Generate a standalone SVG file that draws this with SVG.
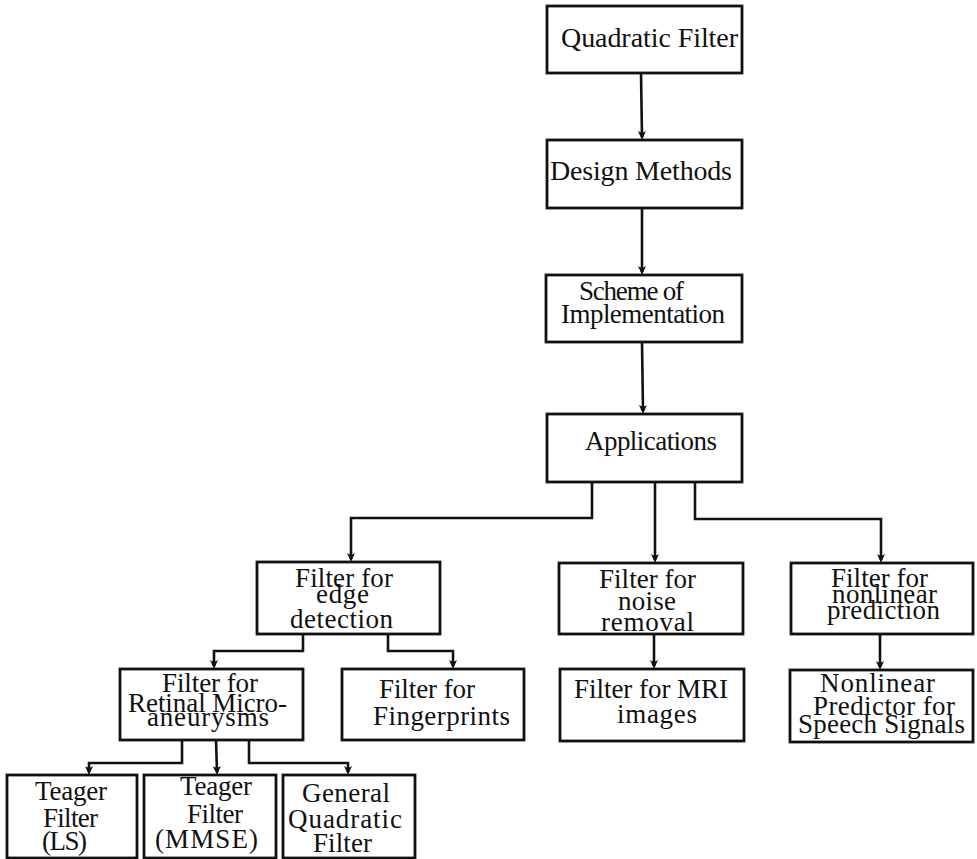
<svg xmlns="http://www.w3.org/2000/svg" width="977" height="859" viewBox="0 0 977 859">
  <style>
    .box { fill: #ffffff; stroke: #111111; stroke-width: 2.8; }
    .lbl { font-family: "Liberation Serif", "DejaVu Serif", serif; font-size: 27px; fill: #111111; }
    .big { font-size: 28px; }
    .wire { fill: none; stroke: #111111; stroke-width: 2.6; stroke-linejoin: miter; }
  </style>
  <defs>
    <marker id="arrow" markerUnits="userSpaceOnUse" viewBox="-11 -6 13 12" refX="-3" refY="0" markerWidth="13" markerHeight="12" orient="auto">
      <path d="M0,0 L-9,-4 Q-6,0 -9,4 Z" fill="#111111"/>
    </marker>
  </defs>

  <rect width="977" height="859" fill="#ffffff"/>

  <!-- connectors -->
  <g id="connectors" class="wires">
    <path class="wire" marker-end="url(#arrow)" d="M641,73 L642,137"/>
    <path class="wire" marker-end="url(#arrow)" d="M642,208 L642,272"/>
    <path class="wire" marker-end="url(#arrow)" d="M642,342 L643,411"/>
    <path class="wire" marker-end="url(#arrow)" d="M592,482 L592,518 L351,518 L351,559"/>
    <path class="wire" marker-end="url(#arrow)" d="M655,482 L655,560"/>
    <path class="wire" marker-end="url(#arrow)" d="M695,482 L695,519 L881,519 L881,560"/>
    <path class="wire" marker-end="url(#arrow)" d="M303,634 L303,651 L214,651 L214,666"/>
    <path class="wire" marker-end="url(#arrow)" d="M388,634 L388,651 L453,651 L453,666"/>
    <path class="wire" marker-end="url(#arrow)" d="M654,634 L654,666"/>
    <path class="wire" marker-end="url(#arrow)" d="M880,634 L880,667"/>
    <path class="wire" marker-end="url(#arrow)" d="M182,740 L182,763 L89,763 L89,772"/>
    <path class="wire" marker-end="url(#arrow)" d="M216,740 L217,772"/>
    <path class="wire" marker-end="url(#arrow)" d="M249,740 L249,763 L348,763 L348,772"/>
  </g>

  <g id="quadratic-filter">
    <rect class="box" x="547" y="6" width="195" height="67"/>
    <text class="lbl big" x="561" y="47" textLength="177">Quadratic Filter</text>
  </g>

  <g id="design-methods">
    <rect class="box" x="547" y="140" width="195" height="68"/>
    <text class="lbl big" x="550" y="180" textLength="182">Design Methods</text>
  </g>

  <g id="scheme">
    <rect class="box" x="546" y="275" width="196" height="67"/>
    <text class="lbl" x="579" y="300" textLength="105">Scheme of</text>
    <text class="lbl" x="561" y="323" textLength="164">Implementation</text>
  </g>

  <g id="applications">
    <rect class="box" x="547" y="414" width="195" height="68"/>
    <text class="lbl" x="585" y="450" textLength="132">Applications</text>
  </g>

  <g id="edge-detection">
    <rect class="box" x="257" y="562" width="183" height="72"/>
    <text class="lbl" x="295" y="587" textLength="98">Filter for</text>
    <text class="lbl" x="316" y="603" textLength="53">edge</text>
    <text class="lbl" x="290" y="628" textLength="103">detection</text>
  </g>

  <g id="noise-removal">
    <rect class="box" x="559" y="563" width="184" height="71"/>
    <text class="lbl" x="599" y="588" textLength="97">Filter for</text>
    <text class="lbl" x="618" y="610" textLength="58">noise</text>
    <text class="lbl" x="601" y="631" textLength="93">removal</text>
  </g>

  <g id="nonlinear-prediction">
    <rect class="box" x="791" y="563" width="182" height="71"/>
    <text class="lbl" x="831" y="587" textLength="97">Filter for</text>
    <text class="lbl" x="832" y="603" textLength="105">nonlinear</text>
    <text class="lbl" x="827" y="619" textLength="113">prediction</text>
  </g>

  <g id="retinal">
    <rect class="box" x="120" y="669" width="183" height="71"/>
    <text class="lbl" x="162" y="692" textLength="96">Filter for</text>
    <text class="lbl" x="128" y="712" textLength="159">Retinal Micro-</text>
    <text class="lbl" x="147" y="726" textLength="122">aneurysms</text>
  </g>

  <g id="fingerprints">
    <rect class="box" x="342" y="669" width="182" height="71"/>
    <text class="lbl" x="379" y="698" textLength="96">Filter for</text>
    <text class="lbl" x="373" y="725" textLength="137">Fingerprints</text>
  </g>

  <g id="mri">
    <rect class="box" x="560" y="669" width="184" height="72"/>
    <text class="lbl" x="574" y="698" textLength="154">Filter for MRI</text>
    <text class="lbl" x="617" y="723" textLength="80">images</text>
  </g>

  <g id="speech-predictor">
    <rect class="box" x="790" y="670" width="183" height="72"/>
    <text class="lbl" x="820" y="692" textLength="115">Nonlinear</text>
    <text class="lbl" x="813" y="715" textLength="142">Predictor for</text>
    <text class="lbl" x="798" y="733" textLength="167">Speech Signals</text>
  </g>

  <g id="teager-ls">
    <rect class="box" x="7" y="775" width="130" height="83"/>
    <text class="lbl" x="35" y="800" textLength="72">Teager</text>
    <text class="lbl" x="43" y="827" textLength="55">Filter</text>
    <text class="lbl" x="42" y="850" textLength="45">(LS)</text>
  </g>

  <g id="teager-mmse">
    <rect class="box" x="144" y="775" width="132" height="83"/>
    <text class="lbl" x="180" y="795" textLength="72">Teager</text>
    <text class="lbl" x="187" y="823" textLength="56">Filter</text>
    <text class="lbl" x="155" y="848" textLength="103">(MMSE)</text>
  </g>

  <g id="general-quadratic">
    <rect class="box" x="283" y="775" width="132" height="83"/>
    <text class="lbl" x="302" y="802" textLength="88">General</text>
    <text class="lbl" x="288" y="828" textLength="114">Quadratic</text>
    <text class="lbl" x="313" y="852" textLength="59">Filter</text>
  </g>
</svg>
